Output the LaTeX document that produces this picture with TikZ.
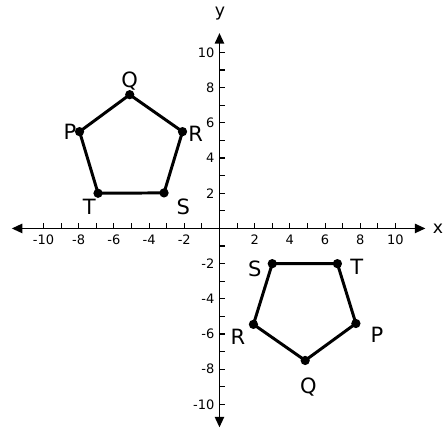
\documentclass[tikz,border=0pt]{standalone}
\usepackage{fontspec}
\setmainfont{DejaVu Sans}
\usetikzlibrary{arrows.meta}
\begin{document}
\begin{tikzpicture}[x=0.5cm,y=0.5cm,
  axisline/.style={line width=1.3pt,-{Triangle[length=8.5pt,width=7.5pt]}},
  tickmark/.style={line width=0.9pt},
  ticklbl/.style={font=\fontsize{10.5}{10.5}\selectfont,inner sep=0pt},
  vlbl/.style={font=\fontsize{17}{17}\selectfont,inner sep=0pt},
  edge/.style={line width=2.4pt,line join=round},
  dot/.style={circle,fill=black,inner sep=0pt,minimum size=7.5pt}]
\useasboundingbox[fill=white] (-12.47,-11.39) rectangle (12.70,12.98);
% axes
\coordinate (xl) at (-11.8,0);
\coordinate (xr) at (11.7,0);
\coordinate (yb) at (0,-11.3);
\coordinate (yt) at (0,11.1);
\draw[axisline] (0,0) -- (xr);
\draw[axisline] (0,0) -- (xl);
\draw[axisline] (0,0) -- (yt);
\draw[axisline] (0,0) -- (yb);
\node[font=\fontsize{14}{14}\selectfont] (xlab) at (12.42,0) {x};
\node[font=\fontsize{14}{14}\selectfont] (ylab) at (0.03,12.2) {y};
\foreach \i in {-10,...,-1,1,2,...,10} {
  \draw[tickmark] (\i,0) -- (\i,0.3);
  \draw[tickmark] (0,\i) -- (0.32,\i);
}
\foreach \i in {-10,-8,-6,-4,-2,2,4,6,8,10} {
  \node[ticklbl,anchor=north] (xt\i) at (\i,-0.35) {\i};
  \node[ticklbl,anchor=east] (yt\i) at (-0.28,\i) {\i};
}
% upper pentagon
\node[dot] (P1) at (-7.95,5.5) {};
\node[dot] (Q1) at (-5.1,7.6) {};
\node[dot] (R1) at (-2.1,5.5) {};
\node[dot] (S1) at (-3.15,2.02) {};
\node[dot] (T1) at (-6.9,2.0) {};
\draw[edge] (P1.center) -- (Q1.center) -- (R1.center) -- (S1.center) -- (T1.center) -- cycle;
\node[vlbl] (lP1) at (-8.5,5.5) {P};
\node[vlbl] (lQ1) at (-5.1,8.35) {Q};
\node[vlbl] (lR1) at (-1.35,5.35) {R};
\node[vlbl] (lS1) at (-2.05,1.25) {S};
\node[vlbl] (lT1) at (-7.4,1.25) {T};
% lower pentagon
\node[dot] (S2) at (3.0,-2.0) {};
\node[dot] (T2) at (6.7,-2.0) {};
\node[dot] (P2) at (7.75,-5.4) {};
\node[dot] (Q2) at (4.87,-7.5) {};
\node[dot] (R2) at (1.93,-5.45) {};
\draw[edge] (S2.center) -- (T2.center) -- (P2.center) -- (Q2.center) -- (R2.center) -- cycle;
\node[vlbl] (lS2) at (2.0,-2.3) {S};
\node[vlbl] (lT2) at (7.8,-2.2) {T};
\node[vlbl] (lP2) at (8.95,-6.05) {P};
\node[vlbl] (lQ2) at (5.05,-9.0) {Q};
\node[vlbl] (lR2) at (1.05,-6.15) {R};
\end{tikzpicture}
\end{document}
